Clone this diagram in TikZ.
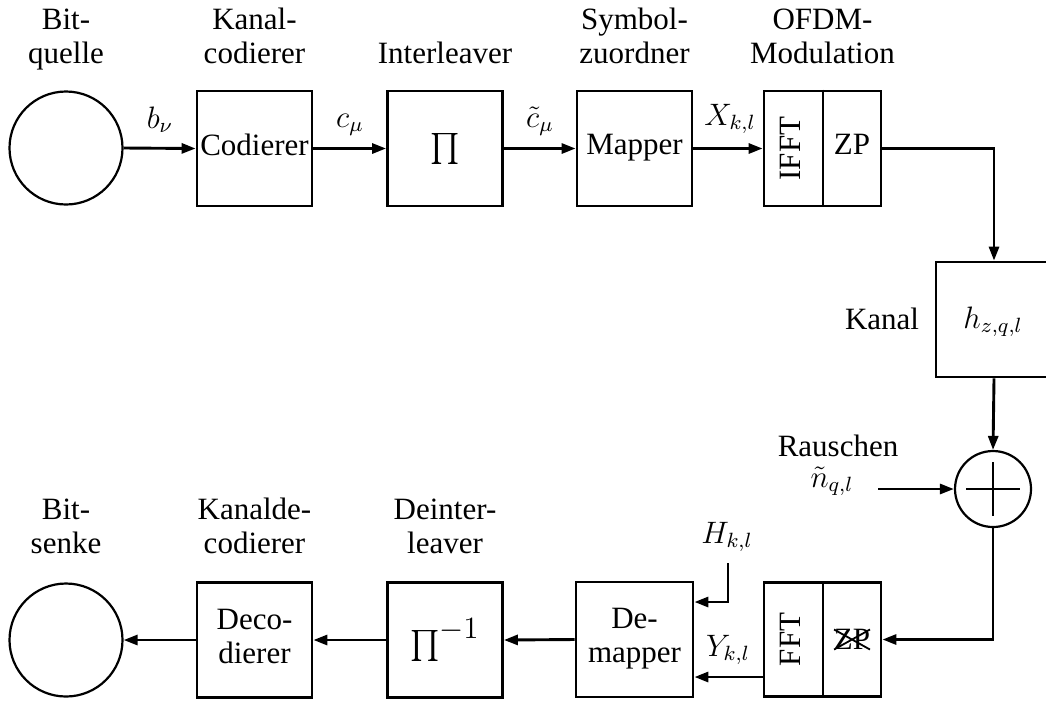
\documentclass[tikz,border=0pt]{standalone}
\usepackage{amsmath}
\usepackage{fontspec}
\setmainfont{Liberation Serif}
\usetikzlibrary{arrows.meta,shapes.misc,calc}
\def\pxs{0.3871pt}
\newcommand\bstrut{\rule[-2.9pt]{0pt}{10.3pt}}
\begin{document}
\begin{tikzpicture}[x=0.3871pt,y=-0.3871pt,
  font=\fontsize{12}{13.2}\selectfont,
  blk/.style={draw,line width=2.8*\pxs,rectangle,minimum width=115*\pxs,minimum height=115*\pxs,inner sep=0pt,align=center},
  halfblk/.style={draw,line width=2.8*\pxs,rectangle,minimum width=117*\pxs,minimum height=115*\pxs,inner sep=0pt},
  srcc/.style={draw,line width=2.2*\pxs,circle,minimum size=113*\pxs,inner sep=0pt},
  lbl/.style={align=center,inner sep=0pt},
  mlbl/.style={inner sep=0pt,anchor=base},
  arr/.style={line width=2.9*\pxs,-{Triangle[length=14*\pxs,width=10*\pxs]}},
  thin/.style={line width=2*\pxs}]
\useasboundingbox (0,0) rectangle (1046,700);
% top row
\node[srcc] (q) at (66,148) {};
\node[blk] (cod) at (254.5,148.5) {\bstrut Codierer};
\node[blk] (il) at (445,148.5) {$\prod$};
\node[blk] (map) at (634.5,148.5) {\bstrut Mapper};
\node[halfblk] (ofdm) at (822.5,148.5) {};
\draw[thin] (ofdm.north) -- (ofdm.south);
\node[lbl,rotate=90] (ifft) at (793.5,148.5) {\strut IFFT};
\node[lbl] (zp) at (852,148.5) {\bstrut ZP};
% labels top
\node[lbl] (lq) at (66,40) {\strut Bit-\\\strut quelle};
\node[lbl] (lcod) at (254.5,40) {\strut Kanal-\\\strut codierer};
\node[lbl] (lil) at (445,57) {\strut Interleaver};
\node[lbl] (lmap) at (634.5,40) {\strut Symbol-\\\strut zuordner};
\node[lbl] (lofdm) at (822.5,40) {\strut OFDM-\\\strut Modulation};
% channel
\node[blk,minimum width=116*\pxs] (kan) at (994,319.5) {};
\node[mlbl] (hz) at (993,328) {$h_{z,q,l}$};
\node[lbl] (lkan) at (882,323) {\strut Kanal};
\node[draw,line width=2.2*\pxs,circle,minimum size=76*\pxs,inner sep=0pt] (add) at (993,489) {};
\draw[thin] ($(add.center)+(-27,0)$) -- ($(add.center)+(27,0)$);
\draw[thin] ($(add.center)+(0,-27)$) -- ($(add.center)+(0,27)$);
\node[lbl] (lr) at (838,450) {\strut Rauschen};
\node[mlbl] (ln) at (832,487) {$\tilde n_{q,l}$};
\coordinate (nin) at (878,489);
% bottom row
\node[halfblk,minimum height=114*\pxs] (fft) at (822.5,639.5) {};
\draw[thin] (fft.north) -- (fft.south);
\node[lbl,rotate=90] (fftt) at (793.5,639.5) {\strut FFT};
\node[lbl,cross out,draw,line width=1.8*\pxs,inner sep=-0.4pt] (zpx) at (852,639.5) {ZP};
\node[blk,minimum width=117*\pxs] (dem) at (634.5,639.5) {\bstrut De-\\\bstrut mapper};
\node[blk] (dil) at (445,640) {$\prod^{\textstyle -1}$};
\node[blk] (dec) at (254.5,640) {\bstrut Deco-\\\bstrut dierer};
\node[srcc] (s) at (66,640) {};
\node[lbl] (ls) at (66,530) {\strut Bit-\\\strut senke};
\node[lbl] (ldec) at (254.5,530) {\strut Kanalde-\\\strut codierer};
\node[lbl] (ldil) at (445,530) {\strut Deinter-\\\strut leaver};
\node[mlbl] (lh) at (727,543) {$H_{k,l}$};
\node[mlbl] (ly) at (728,656) {$Y_{k,l}$};
\coordinate (hin) at (728,563);
\coordinate (hc) at (728,602);
\coordinate (yrow) at (0,677);
% edge labels
\node[mlbl] (eb) at (160,128) {$b_\nu$};
\node[mlbl] (ec) at (350,127) {$c_\mu$};
\node[mlbl] (ect) at (540,127) {$\tilde c_\mu$};
\node[mlbl] (ex) at (730,125) {$X_{k,l}$};
% connectors
\draw[arr] (q.east) -- (cod.west);
\draw[arr] (cod.east) -- (il.west);
\draw[arr] (il.east) -- (map.west);
\draw[arr] (map.east) -- (ofdm.west);
\draw[arr] (ofdm.east) -| (kan.north);
\draw[arr] (kan.south) -- (add.north);
\draw[arr] (nin) -- (add.west);
\draw[arr] (add.south) |- (fft.east);
\draw[arr] (fft.west |- yrow) -- (dem.east |- yrow);
\draw[arr] (hin) -- (hc) -- (dem.east |- hc);
\draw[arr] (dem.west) -- (dil.east);
\draw[arr] (dil.west) -- (dec.east);
\draw[arr] (dec.west) -- (s.east);
\end{tikzpicture}
\end{document}
